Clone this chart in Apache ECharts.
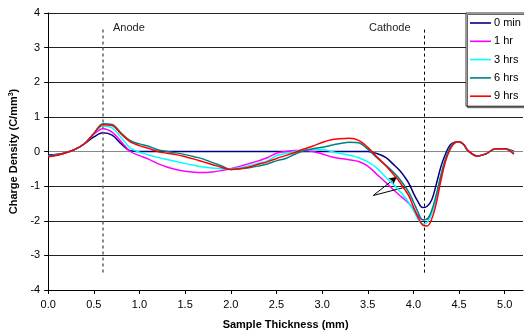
<!DOCTYPE html>
<html>
<head>
<meta charset="utf-8">
<style>
  html, body { margin: 0; padding: 0; background: #fff; }
  #chart { width: 524px; height: 335px; }
</style>
<script src="https://cdn.jsdelivr.net/npm/echarts@6/dist/echarts.min.js"></script>
</head>
<body>
<div id="chart"></div>
<script>
// sample thickness (mm) where the curves were read
const thickness = [
  0.0, 0.1, 0.2, 0.3, 0.4, 0.5, 0.6, 0.7, 0.8, 0.9,
  1.0, 1.1, 1.2, 1.3, 1.4, 1.5, 1.6, 1.7, 1.8, 1.9,
  2.0, 2.1, 2.2, 2.3, 2.4, 2.5, 2.6, 2.7, 2.8, 2.9,
  3.0, 3.1, 3.2, 3.3, 3.4, 3.5, 3.6, 3.7, 3.8, 3.85,
  3.9, 3.95, 4.0, 4.05, 4.1, 4.15, 4.2, 4.25, 4.3, 4.35,
  4.4, 4.45, 4.5, 4.55, 4.6, 4.7, 4.8, 4.9, 5.0, 5.1
];

const min0 = [
  -0.10, -0.08, -0.03, 0.07, 0.23, 0.42, 0.54, 0.47, 0.22, 0.02,
  0.00, 0.00, 0.00, 0.00, 0.00, 0.00, 0.00, 0.00, 0.00, 0.00,
  0.00, 0.00, 0.00, 0.00, 0.00, 0.00, 0.00, 0.00, 0.00, 0.00,
  0.00, 0.00, 0.00, 0.00, 0.00, 0.00, -0.06, -0.18, -0.42, -0.55,
  -0.72, -0.92, -1.20, -1.45, -1.62, -1.58, -1.40, -0.95, -0.45, -0.08,
  0.18, 0.27, 0.28, 0.20, 0.02, -0.13, -0.06, 0.08, 0.08, 0.00
];
const hr1 = [
  -0.13, -0.10, -0.03, 0.07, 0.23, 0.50, 0.66, 0.56, 0.28, 0.00,
  -0.12, -0.22, -0.35, -0.45, -0.52, -0.57, -0.60, -0.61, -0.59, -0.55,
  -0.50, -0.43, -0.35, -0.27, -0.18, -0.05, 0.00, 0.03, 0.03, 0.00,
  -0.07, -0.15, -0.20, -0.24, -0.29, -0.42, -0.66, -0.90, -1.15, -1.27,
  -1.38, -1.50, -1.65, -1.85, -1.97, -1.95, -1.75, -1.35, -0.75, -0.25,
  0.10, 0.25, 0.28, 0.20, 0.02, -0.13, -0.06, 0.08, 0.08, -0.02
];
const hrs3 = [
  -0.13, -0.10, -0.03, 0.07, 0.23, 0.51, 0.74, 0.68, 0.40, 0.10,
  -0.02, -0.10, -0.17, -0.23, -0.29, -0.35, -0.40, -0.45, -0.48, -0.50,
  -0.50, -0.47, -0.41, -0.34, -0.27, -0.12, -0.06, 0.00, 0.04, 0.06,
  0.06, 0.00, -0.06, -0.11, -0.18, -0.30, -0.48, -0.75, -1.00, -1.15,
  -1.30, -1.48, -1.70, -1.95, -2.10, -2.05, -1.80, -1.30, -0.70, -0.25,
  0.10, 0.25, 0.28, 0.20, 0.02, -0.13, -0.06, 0.08, 0.08, -0.04
];
const hrs6 = [
  -0.13, -0.10, -0.03, 0.07, 0.23, 0.52, 0.80, 0.78, 0.53, 0.31,
  0.22, 0.15, 0.05, 0.00, -0.04, -0.09, -0.15, -0.22, -0.32, -0.42,
  -0.52, -0.50, -0.47, -0.42, -0.36, -0.27, -0.20, -0.08, 0.02, 0.08,
  0.12, 0.18, 0.23, 0.27, 0.25, 0.07, -0.18, -0.40, -0.65, -0.80,
  -0.98, -1.18, -1.45, -1.75, -1.97, -1.95, -1.70, -1.25, -0.70, -0.22,
  0.10, 0.25, 0.28, 0.20, 0.02, -0.13, -0.06, 0.08, 0.08, -0.06
];
const hrs9 = [
  -0.15, -0.11, -0.03, 0.07, 0.23, 0.52, 0.77, 0.75, 0.50, 0.28,
  0.17, 0.09, 0.00, -0.05, -0.09, -0.15, -0.22, -0.30, -0.38, -0.46,
  -0.52, -0.50, -0.45, -0.37, -0.30, -0.20, -0.12, -0.03, 0.07, 0.16,
  0.26, 0.34, 0.37, 0.38, 0.32, 0.12, -0.15, -0.42, -0.72, -0.88,
  -1.08, -1.28, -1.60, -1.90, -2.12, -2.15, -1.95, -1.50, -0.85, -0.30,
  0.05, 0.25, 0.28, 0.20, 0.02, -0.13, -0.06, 0.08, 0.08, -0.08
];

const seriesNames = ['0 min', '1 hr', '3 hrs', '6 hrs', '9 hrs'];
const seriesValues = [min0, hr1, hrs3, hrs6, hrs9];
const seriesColors = ['#000080', '#FF00FF', '#00FFFF', '#008080', '#FF0000'];

const xTicks = [0, 5.2, 0.5];   // min, max, interval
const yTicks = [-4, 4, 1];

// electrode positions (mm) and the extent of their dashed markers
const anodeX = 0.6;
const cathodeX = 4.12;
const electrodeSpan = [3.52, -3.58];

// hand drawn arrow: tail -> tip -> head
const arrowPath = [[3.97, -0.99], [3.56, -1.27], [3.82, -0.73]];

const font = 'Liberation Sans, Arial, sans-serif';
const lineIcon = 'path://M0,0 L21,0 L21,1.6 L0,1.6 Z';

const series = seriesNames.map((name, i) => ({
  name: name,
  type: 'line',
  data: thickness.map((x, j) => [x, seriesValues[i][j]]),
  smooth: 0.35,
  symbol: 'none',
  showSymbol: false,
  lineStyle: { color: seriesColors[i], width: 1.5 },
  itemStyle: { color: seriesColors[i] },
  z: 3 + i
}));

// annotations (dashed electrode lines + arrow)
series.push({
  name: 'annotations',
  type: 'line',
  data: [],
  silent: true,
  markLine: {
    silent: true,
    animation: false,
    label: { show: false },
    symbol: ['none', 'none'],
    data: [
      [
        { coord: [anodeX, electrodeSpan[0]], lineStyle: { color: '#666', type: [3, 3], width: 1.5 } },
        { coord: [anodeX, electrodeSpan[1]] }
      ],
      [
        { coord: [cathodeX, electrodeSpan[0]], lineStyle: { color: '#000', type: [3, 3], width: 1 } },
        { coord: [cathodeX, electrodeSpan[1]] }
      ],
      [
        { coord: arrowPath[0], lineStyle: { color: '#000', type: 'solid', width: 1 } },
        { coord: arrowPath[1] }
      ],
      [
        { coord: arrowPath[1], lineStyle: { color: '#000', type: 'solid', width: 1 }, symbol: 'none' },
        { coord: arrowPath[2], symbol: 'arrow', symbolSize: [6, 8] }
      ]
    ]
  }
});

const chart = echarts.init(document.getElementById('chart'));
chart.setOption({
  animation: false,
  textStyle: { fontFamily: font },
  grid: { left: 47, right: 1, top: 13, bottom: 42 },
  legend: {
    data: seriesNames.map(n => ({ name: n, icon: lineIcon })),
    orient: 'vertical',
    left: 466,
    top: 13,
    padding: [3, 8, 3, 4],
    itemGap: 4.3,
    itemWidth: 21,
    itemHeight: 14,
    itemStyle: { borderWidth: 0 },
    backgroundColor: '#fff',
    borderColor: '#333',
    borderWidth: 1,
    shadowColor: '#666',
    shadowOffsetX: 1.5,
    shadowOffsetY: 1.5,
    shadowBlur: 0,
    textStyle: { fontFamily: font, fontSize: 11, color: '#000', padding: [0, 0, 0, -2], lineHeight: 14 }
  },
  graphic: [
    { type: 'text', left: 113, top: 22, style: { text: 'Anode', font: '11px ' + font, fill: '#222' } },
    { type: 'text', left: 369, top: 22, style: { text: 'Cathode', font: '11px ' + font, fill: '#222' } }
  ],
  xAxis: {
    type: 'value',
    min: xTicks[0],
    max: xTicks[1],
    interval: xTicks[2],
    name: 'Sample Thickness (mm)',
    nameLocation: 'middle',
    nameGap: 29,
    nameTextStyle: { fontFamily: font, fontSize: 11, fontWeight: 'bold', color: '#000' },
    axisLine: { onZero: false, lineStyle: { color: '#000', width: 1 } },
    axisTick: { show: true, length: 4, lineStyle: { color: '#000' } },
    axisLabel: {
      color: '#000', fontSize: 11, margin: 9, showMaxLabel: false,
      formatter: v => v.toFixed(1)
    },
    splitLine: { show: false }
  },
  yAxis: {
    type: 'value',
    min: yTicks[0],
    max: yTicks[1],
    interval: yTicks[2],
    name: 'Charge Density (C/mm{sup|3})',
    nameLocation: 'middle',
    nameGap: 27,
    nameTextStyle: {
      fontFamily: font, fontSize: 11, fontWeight: 'bold', color: '#000',
      rich: { sup: { fontSize: 7, fontWeight: 'bold', verticalAlign: 'top', padding: [0, 0, 5, 0] } }
    },
    axisLine: { show: true, lineStyle: { color: '#000', width: 1 } },
    axisTick: { show: true, length: 4, lineStyle: { color: '#000' } },
    axisLabel: { color: '#000', fontSize: 11, margin: 8 },
    splitLine: {
      show: true,
      lineStyle: {
        color: ['#000', '#222', '#222', '#222', '#888', '#222', '#222', '#222', '#222'],
        width: 1
      }
    }
  },
  series: series
});
</script>
</body>
</html>
